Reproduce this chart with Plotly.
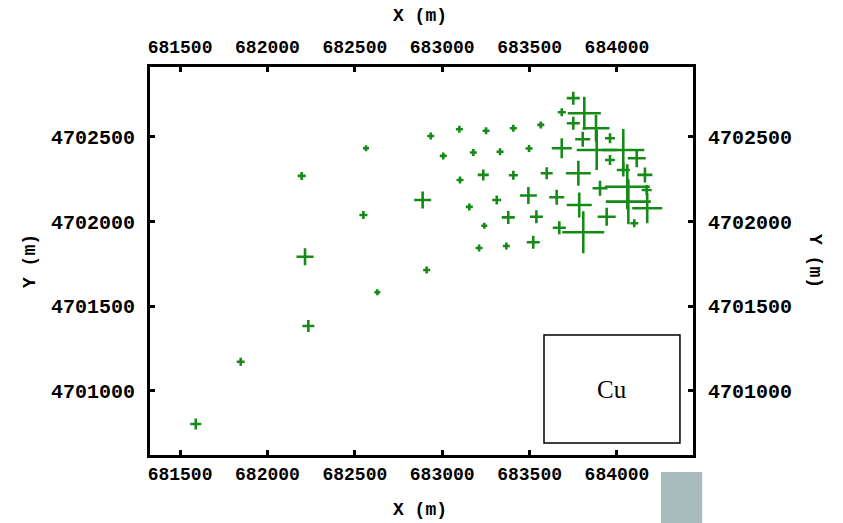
import plotly.graph_objects as go

# Sample locations (UTM, m) and Cu value (drawn as cross size)
x_m = [681590, 681847, 682234, 682215, 682196, 682549, 682564, 682629, 682888, 682911,
       682934, 683098, 683251, 683407, 683564, 683006, 683178, 683331, 683497, 683102,
       683235, 683407, 683598, 683155, 683312, 683493, 683241, 683378, 683539, 683211,
       683367, 683521,
       683750, 683684, 683813, 683750, 683880, 683804, 683960, 683684, 683884, 684036,
       683960, 684113, 684036, 684160, 683779, 683903, 684059, 684065, 684170, 684173,
       684099, 683655, 683784, 683941, 683670, 683807]
y_m = [4700805, 4701173, 4701384, 4701793, 4702270, 4702039, 4702433, 4701583, 4702128, 4701714,
       4702506, 4702545, 4702537, 4702551, 4702571, 4702388, 4702408, 4702413, 4702432, 4702246,
       4702276, 4702274, 4702286, 4702087, 4702128, 4702154, 4701976, 4702025, 4702029, 4701844,
       4701856, 4701878,
       4702729, 4702646, 4702640, 4702581, 4702551, 4702486, 4702492, 4702433, 4702423, 4702423,
       4702364, 4702374, 4702305, 4702276, 4702286, 4702197, 4702206, 4702118, 4702187, 4702079,
       4701990, 4702144, 4702098, 4702029, 4701964, 4701937]
cu = [11, 8, 12, 17, 8, 8, 6, 6, 17, 7,
      7, 7, 7, 7, 7, 7, 7, 7, 7, 7,
      11, 9, 12, 7, 9, 17, 6, 13, 13, 7,
      7, 13,
      13, 8, 33, 13, 27, 15, 10, 20, 40, 42,
      10, 18, 13, 15, 25, 15, 45, 45, 10, 30,
      8, 15, 25, 18, 13, 42]

x_ticks = [681500, 682000, 682500, 683000, 683500, 684000]
y_ticks = [4701000, 4701500, 4702000, 4702500]
x_range = [681328, 684435]
y_range = [4700622, 4702913]

GREEN = "#168a16"
TICKFONT = dict(family="Liberation Mono", size=18, color="black", weight="bold")
YTICKFONT = dict(family="Liberation Mono", size=20, color="black", weight="bold")
TITLEFONT = dict(family="Liberation Mono", size=18, color="black", weight="bold")

fig = go.Figure()
fig.add_trace(go.Scatter(
    x=x_m, y=y_m, mode="markers",
    marker=dict(symbol="cross-thin-open", size=cu, sizemode="diameter", sizeref=1.4,
                opacity=1, color=GREEN, line=dict(color=GREEN, width=2.6)),
    showlegend=False, hoverinfo="skip"))
# invisible companion trace so the mirrored (top/right) labelled axes render
fig.add_trace(go.Scatter(
    x=x_m[:1], y=y_m[:1], xaxis="x2", yaxis="y2", mode="markers",
    marker=dict(opacity=0, size=1), showlegend=False, hoverinfo="skip"))

axis_common = dict(showgrid=False, zeroline=False, ticks="inside", ticklen=5,
                   tickwidth=3, tickcolor="black", automargin=False)
fig.update_layout(
    width=843, height=523,
    margin=dict(l=150, r=150, t=67, b=68),
    paper_bgcolor="white", plot_bgcolor="white",
    xaxis=dict(range=x_range, tickvals=x_ticks, ticktext=[str(v) for v in x_ticks],
               showline=True, linewidth=3, linecolor="black", mirror=True,
               tickfont=TICKFONT, ticklabelstandoff=0, **axis_common),
    xaxis2=dict(range=x_range, tickvals=x_ticks, ticktext=[str(v) for v in x_ticks],
                overlaying="x", side="top", matches="x", showline=False,
                tickfont=TICKFONT, ticklabelstandoff=9, **axis_common),
    yaxis=dict(range=y_range, tickvals=y_ticks, ticktext=[str(v) for v in y_ticks],
               showline=True, linewidth=3, linecolor="black", mirror=True,
               tickfont=YTICKFONT, ticklabelstandoff=8, **axis_common),
    yaxis2=dict(range=y_range, tickvals=y_ticks, ticktext=[str(v) for v in y_ticks],
                overlaying="y", side="right", matches="y", showline=False,
                tickfont=YTICKFONT, ticklabelstandoff=14, **axis_common),
    shapes=[
        dict(type="rect", xref="paper", yref="paper", x0=0.7256, x1=0.976, y0=0.031, y1=0.309,
             line=dict(color="black", width=1.5), fillcolor="white", layer="above"),
        dict(type="rect", xref="paper", yref="paper", x0=0.941, x1=1.017, y0=-0.18, y1=-0.044,
             line=dict(width=0), fillcolor="#a8bcbc", layer="above"),
    ],
    annotations=[
        dict(text="Cu", xref="paper", yref="paper", x=0.851, y=0.170, showarrow=False,
             xanchor="center", yanchor="middle",
             font=dict(family="Liberation Serif", size=25, color="black")),
        dict(text="X (m)", xref="paper", yref="paper", x=0.497, y=1.0, yshift=51,
             xanchor="center", yanchor="middle", showarrow=False, font=TITLEFONT),
        dict(text="X (m)", xref="paper", yref="paper", x=0.497, y=0.0, yshift=-55,
             xanchor="center", yanchor="middle", showarrow=False, font=TITLEFONT),
        dict(text="Y (m)", xref="paper", yref="paper", x=0.0, xshift=-120, y=0.5,
             xanchor="center", yanchor="middle",
             textangle=-90, showarrow=False, font=TITLEFONT),
        dict(text="Y (m)", xref="paper", yref="paper", x=1.0, xshift=122, y=0.5,
             xanchor="center", yanchor="middle",
             textangle=90, showarrow=False, font=TITLEFONT),
    ],
)

fig.write_html("out.html", config={"displayModeBar": False},
               post_script="document.body.style.margin='0px';")
